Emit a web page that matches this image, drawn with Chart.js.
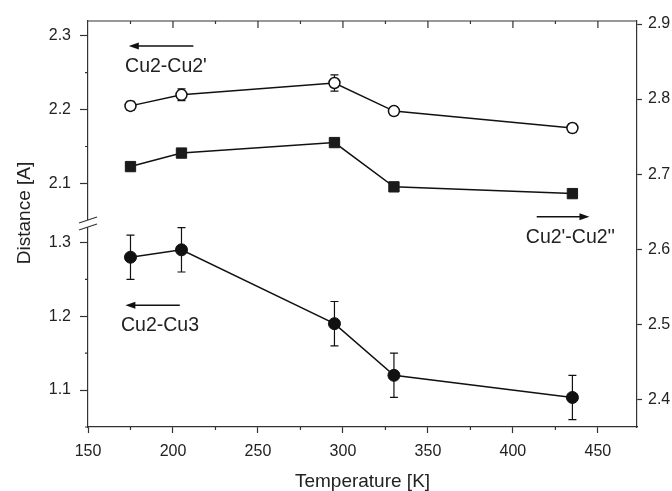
<!DOCTYPE html>
<html lang="en">
<head>
<meta charset="UTF-8">
<title>Cu-Cu distances vs temperature</title>
<script src="https://cdn.jsdelivr.net/npm/chart.js@4.4.1/dist/chart.umd.min.js"></script>
<style>
  html, body { margin: 0; padding: 0; background: #fff; }
  #wrap { width: 672px; height: 491px; }
</style>
</head>
<body>
<div id="wrap"><canvas id="chart" width="672" height="491"></canvas></div>
<script>
// data
const temps = [175, 205, 295, 330, 435];
const cu2cu2p = [2.205, 2.220, 2.236, 2.198, 2.175];      // left axis, upper part
const cu2cu2pErr = [0.006, 0.008, 0.011, 0.006, 0.006];
const cu2pcu2pp = [2.710, 2.728, 2.742, 2.683, 2.674];     // right axis
const cu2cu3 = [1.28, 1.29, 1.19, 1.12, 1.09];             // left axis, lower part
const cu2cu3Err = [0.03, 0.03, 0.03, 0.03, 0.03];

// axis ranges / minor ticks
const xRange = [150, 473];
const yTopRange = [2.045, 2.32];
const yBottomRange = [1.05, 1.325];
const yRightRange = [2.363, 2.904];
const xMinor = [175, 200, 225, 250, 275, 300, 325, 350, 375, 400, 425, 450];
const yTopMinor = [2.15, 2.25];
const yBottomMinor = [1.05, 1.15, 1.25];

// labels with arrows (text position + arrow from/to, in data units)
const notes = [
  { text: "Cu2-Cu2'", x: 171.8, y: 2.258, axis: 'yTop', from: 212, to: 174, ay: 2.286 },
  { text: 'Cu2-Cu3', x: 169.4, y: 1.188, axis: 'yBottom', from: 204, to: 172, ay: 1.215 },
  { text: "Cu2'-Cu2''", x: 407.6, y: 2.615, axis: 'yRight', from: 414, to: 445, ay: 2.643 }
];

const FONT = '"Liberation Sans", Arial, Helvetica, sans-serif';
const INK = '#222';
const AXIS = '#333';

const toPts = (vals) => temps.map((t, i) => ({ x: t, y: vals[i] }));

const decor = {
  id: 'decor',
  beforeDatasetsDraw(chart) {
    const ctx = chart.ctx;
    const x = chart.scales.x;
    ctx.save();
    ctx.strokeStyle = '#111';
    ctx.lineWidth = 1.2;
    chart.data.datasets.forEach((ds) => {
      if (!ds.err) return;
      const y = chart.scales[ds.yAxisID];
      ds.data.forEach((p, i) => {
        const px = x.getPixelForValue(p.x);
        const y1 = y.getPixelForValue(p.y - ds.err[i]);
        const y2 = y.getPixelForValue(p.y + ds.err[i]);
        ctx.beginPath();
        ctx.moveTo(px, y1); ctx.lineTo(px, y2);
        ctx.moveTo(px - 4, y1); ctx.lineTo(px + 4, y1);
        ctx.moveTo(px - 4, y2); ctx.lineTo(px + 4, y2);
        ctx.stroke();
      });
    });
    ctx.restore();
  },
  afterDraw(chart) {
    const ctx = chart.ctx;
    const a = chart.chartArea;
    const { x, yTop, yBottom } = chart.scales;
    ctx.save();
    ctx.strokeStyle = AXIS;
    ctx.lineWidth = 1.2;

    // top frame with inward ticks
    ctx.beginPath();
    ctx.moveTo(a.left, a.top); ctx.lineTo(a.right, a.top);
    xMinor.forEach((v) => {
      const px = x.getPixelForValue(v);
      const len = v % 50 === 0 ? 7 : 3;
      ctx.moveTo(px, a.top); ctx.lineTo(px, a.top + len);
      if (v % 50 !== 0) { ctx.moveTo(px, a.bottom); ctx.lineTo(px, a.bottom + 3); }
    });
    // minor ticks on the left axis
    yTopMinor.forEach((v) => {
      const py = yTop.getPixelForValue(v);
      ctx.moveTo(a.left - 3, py); ctx.lineTo(a.left, py);
    });
    yBottomMinor.forEach((v) => {
      const py = yBottom.getPixelForValue(v);
      ctx.moveTo(a.left - 3, py); ctx.lineTo(a.left, py);
    });
    ctx.stroke();

    // axis break between the two left segments
    const yb = yTop.bottom;
    ctx.fillStyle = '#fff';
    ctx.fillRect(a.left - 2, yb - 4, 4, 7);
    ctx.beginPath();
    ctx.moveTo(a.left - 9, yb - 1); ctx.lineTo(a.left + 9, yb - 7);
    ctx.moveTo(a.left - 9, yb + 6); ctx.lineTo(a.left + 9, yb);
    ctx.stroke();

    // notes with arrows
    ctx.fillStyle = INK;
    ctx.strokeStyle = '#111';
    ctx.lineWidth = 1.5;
    ctx.font = '19.5px ' + FONT;
    ctx.textAlign = 'left';
    ctx.textBaseline = 'middle';
    notes.forEach((n) => {
      const ys = chart.scales[n.axis];
      ctx.fillText(n.text, x.getPixelForValue(n.x), ys.getPixelForValue(n.y));
      const x1 = x.getPixelForValue(n.from);
      const x2 = x.getPixelForValue(n.to);
      const py = ys.getPixelForValue(n.ay);
      const dir = Math.sign(x2 - x1);
      ctx.beginPath();
      ctx.moveTo(x1, py); ctx.lineTo(x2 - dir * 8, py);
      ctx.stroke();
      ctx.beginPath();
      ctx.moveTo(x2, py);
      ctx.lineTo(x2 - dir * 10, py - 3.5);
      ctx.lineTo(x2 - dir * 10, py + 3.5);
      ctx.closePath();
      ctx.fillStyle = '#111';
      ctx.fill();
      ctx.fillStyle = INK;
    });

    // axis titles
    ctx.font = '19px ' + FONT;
    ctx.textAlign = 'center';
    ctx.textBaseline = 'alphabetic';
    ctx.fillText('Temperature [K]', (a.left + a.right) / 2, 487);
    ctx.translate(30, 213);
    ctx.rotate(-Math.PI / 2);
    ctx.fillText('Distance [A]', 0, 0);
    ctx.restore();
  }
};

const tickFont = { family: FONT, size: 16 };
const axisBorder = { display: true, color: AXIS, width: 1.2 };

new Chart(document.getElementById('chart'), {
  type: 'line',
  data: {
    datasets: [
      {
        label: "Cu2-Cu2'",
        data: toPts(cu2cu2p),
        err: cu2cu2pErr,
        yAxisID: 'yTop',
        borderColor: '#111',
        borderWidth: 1.5,
        pointStyle: 'circle',
        pointRadius: 5.5,
        pointBackgroundColor: '#fff',
        pointBorderColor: '#111',
        pointBorderWidth: 1.5
      },
      {
        label: "Cu2'-Cu2''",
        data: toPts(cu2pcu2pp),
        yAxisID: 'yRight',
        borderColor: '#111',
        borderWidth: 1.5,
        pointStyle: 'rect',
        pointRadius: 7.3,
        pointBackgroundColor: '#1a1a1a',
        pointBorderColor: '#1a1a1a',
        pointBorderWidth: 1
      },
      {
        label: 'Cu2-Cu3',
        data: toPts(cu2cu3),
        err: cu2cu3Err,
        yAxisID: 'yBottom',
        borderColor: '#111',
        borderWidth: 1.5,
        pointStyle: 'circle',
        pointRadius: 6,
        pointBackgroundColor: '#111',
        pointBorderColor: '#111',
        pointBorderWidth: 1
      }
    ]
  },
  options: {
    responsive: false,
    animation: false,
    events: [],
    layout: { padding: { top: 21, left: 0, right: 0, bottom: 0 } },
    plugins: { legend: { display: false }, tooltip: { enabled: false } },
    scales: {
      x: {
        type: 'linear', position: 'bottom',
        min: xRange[0], max: xRange[1],
        ticks: { stepSize: 50, includeBounds: false, padding: 9, color: INK, font: tickFont },
        grid: { drawOnChartArea: false, tickLength: 6, tickColor: AXIS, tickWidth: 1.2 },
        border: axisBorder,
        afterFit(s) { s.height = 64; }
      },
      // stacked left axes: the one listed first ends up at the bottom
      yBottom: {
        type: 'linear', position: 'left', stack: 'left', stackWeight: 1,
        min: yBottomRange[0], max: yBottomRange[1],
        ticks: { stepSize: 0.1, includeBounds: false, padding: 9, color: INK, font: tickFont,
                 callback: (v) => v.toFixed(1) },
        grid: { drawOnChartArea: false, tickLength: 8, tickColor: AXIS, tickWidth: 1.2 },
        border: axisBorder,
        afterFit(s) { s.width = 88; }
      },
      yTop: {
        type: 'linear', position: 'left', stack: 'left', stackWeight: 1,
        min: yTopRange[0], max: yTopRange[1],
        ticks: { stepSize: 0.1, includeBounds: false, padding: 9, color: INK, font: tickFont,
                 callback: (v) => v.toFixed(1) },
        grid: { drawOnChartArea: false, tickLength: 8, tickColor: AXIS, tickWidth: 1.2 },
        border: axisBorder,
        afterFit(s) { s.width = 88; }
      },
      yRight: {
        type: 'linear', position: 'right',
        min: yRightRange[0], max: yRightRange[1],
        ticks: { stepSize: 0.1, includeBounds: false, padding: 6, color: INK, font: tickFont,
                 callback: (v) => v.toFixed(1) },
        grid: { drawOnChartArea: false, tickLength: 5, tickColor: AXIS, tickWidth: 1.2 },
        border: axisBorder,
        afterFit(s) { s.width = 35; }
      }
    }
  },
  plugins: [decor]
});
</script>
</body>
</html>
